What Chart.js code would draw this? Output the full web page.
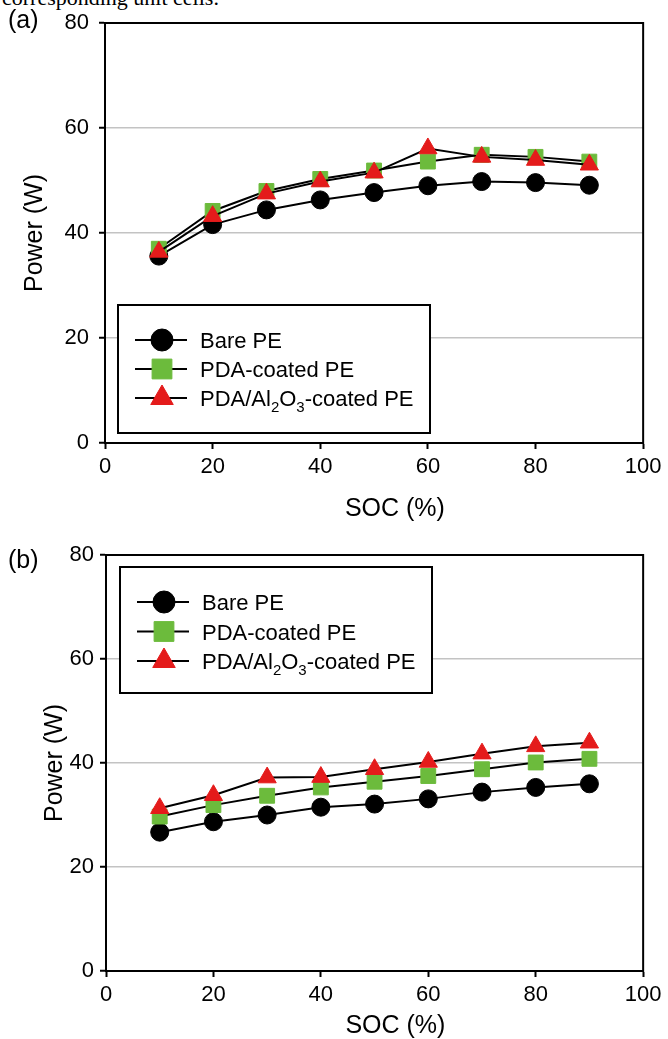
<!doctype html>
<html lang="en">
<head>
<meta charset="utf-8">
<title>Power vs SOC</title>
<script src="https://cdn.jsdelivr.net/npm/chart.js@4.4.1/dist/chart.umd.min.js"></script>
<style>
  html, body { margin: 0; padding: 0; background: #fff; }
  body { width: 668px; height: 1039px; position: relative; overflow: hidden; }
  .caption { position: absolute; left: 2px; top: -13px; font: 22px/22px "Liberation Serif", "Times New Roman", serif; white-space: nowrap; }
  .panel { position: absolute; left: 8px; z-index: 2; font: 25px/25px "Liberation Sans", Arial, sans-serif; }
  #wrapA { position: absolute; left: 0; top: 0; width: 668px; height: 530px; }
  #wrapB { position: absolute; left: 0; top: 530px; width: 668px; height: 509px; }
</style>
</head>
<body>
<div class="caption">corresponding unit cells.</div>
<div class="panel" style="top:7px">(a)</div>
<div class="panel" style="top:547px">(b)</div>
<div id="wrapA"><canvas id="chartA"></canvas></div>
<div id="wrapB"><canvas id="chartB"></canvas></div>
<script>
// SOC (%) on the x axis
var soc = [10, 20, 30, 40, 50, 60, 70, 80, 90];
var xTicks = [0, 20, 40, 60, 80, 100];
var yTicks = [0, 20, 40, 60, 80];
var seriesLabels = ['Bare PE', 'PDA-coated PE', 'PDA/Al2O3-coated PE'];

// panel (a)
var bareA = [35.6, 41.6, 44.4, 46.3, 47.7, 49.0, 49.8, 49.6, 49.1];
var pdaA = [37.0, 44.2, 48.0, 50.3, 51.9, 53.6, 54.9, 54.5, 53.6];
var alA = [36.4, 43.2, 47.5, 49.8, 51.5, 56.1, 54.5, 53.9, 53.0];

// panel (b)
var bareB = [26.7, 28.7, 30.0, 31.5, 32.1, 33.1, 34.4, 35.3, 36.0];
var pdaB = [29.7, 31.9, 33.7, 35.3, 36.4, 37.5, 38.8, 40.1, 40.8];
var alB = [31.3, 33.8, 37.2, 37.3, 38.8, 40.2, 41.8, 43.2, 43.9];

var looks = [
    { style: 'circle', color: '#000000', r: 9, legendR: 11 },
    { style: 'rect', color: '#6cbb3c', r: 10.5, legendR: 14 },
    { style: 'triangle', color: '#e41b1b', r: 10.5, legendR: 13 }
];

var tickFont = { family: '"Liberation Sans", Arial, sans-serif', size: 22, lineHeight: 1 };
var titleFont = { family: '"Liberation Sans", Arial, sans-serif', size: 25, lineHeight: 1 };

// black box round the plot area
var frame = {
    id: 'frame',
    beforeDatasetsDraw: function (chart) {
        var ctx = chart.ctx, a = chart.chartArea;
        ctx.save();
        ctx.strokeStyle = '#000';
        ctx.lineWidth = 2;
        ctx.strokeRect(a.left, a.top, a.right - a.left, a.bottom - a.top);
        ctx.restore();
    }
};

// draws text, digits as subscripts (Al2O3)
function drawRich(ctx, text, x, y) {
    var parts = text.split(/(\d+)/);
    parts.forEach(function (p, k) {
        if (!p) return;
        var sub = k % 2 === 1;
        ctx.font = (sub ? '15px' : '22px') + ' "Liberation Sans", Arial, sans-serif';
        ctx.fillText(p, x, sub ? y + 14 : y + 8);
        x += ctx.measureText(p).width;
    });
}

// boxed legend inside the plot, line + marker + label
var boxLegend = {
    id: 'boxLegend',
    afterDraw: function (chart, args, o) {
        var ctx = chart.ctx, a = chart.chartArea;
        var bx = a.left + o.dx, by = a.top + o.dy;
        ctx.save();
        ctx.fillStyle = '#fff';
        ctx.fillRect(bx, by, o.w, o.h);
        ctx.lineWidth = 2;
        ctx.strokeStyle = '#000';
        ctx.strokeRect(bx, by, o.w, o.h);
        chart.data.datasets.forEach(function (ds, i) {
            var y = by + o.firstRow + i * o.rowGap;
            ctx.strokeStyle = '#000';
            ctx.lineWidth = 2;
            ctx.beginPath();
            ctx.moveTo(bx + 17, y);
            ctx.lineTo(bx + 69, y);
            ctx.stroke();
            ctx.fillStyle = looks[i].color;
            ctx.strokeStyle = looks[i].color;
            ctx.lineWidth = 1;
            Chart.helpers.drawPoint(ctx, { pointStyle: looks[i].style, radius: looks[i].legendR, rotation: 0, borderWidth: 1 }, bx + 44, y);
            ctx.fillStyle = '#000';
            ctx.textBaseline = 'alphabetic';
            ctx.textAlign = 'left';
            drawRich(ctx, ds.label, bx + 82, y);
        });
        ctx.restore();
    }
};

function makeChart(id, series, cfg) {
    return new Chart(document.getElementById(id), {
        type: 'line',
        data: {
            datasets: series.map(function (s, i) {
                return {
                    label: seriesLabels[i],
                    data: soc.map(function (x, j) { return { x: x, y: s[j] }; }),
                    borderColor: '#000',
                    borderWidth: 2,
                    tension: 0,
                    pointStyle: looks[i].style,
                    pointRadius: looks[i].r,
                    pointBackgroundColor: looks[i].color,
                    pointBorderColor: looks[i].color,
                    pointBorderWidth: 1,
                    order: 2 - i
                };
            })
        },
        options: {
            responsive: true,
            maintainAspectRatio: false,
            animation: false,
            layout: { padding: cfg.padding },
            scales: {
                x: {
                    type: 'linear',
                    min: 0,
                    max: 100,
                    afterBuildTicks: function (s) { s.ticks = xTicks.map(function (v) { return { value: v }; }); },
                    afterFit: function (s) { s.height = cfg.xHeight; },
                    ticks: { color: '#000', font: tickFont, padding: 6.5, maxRotation: 0, autoSkip: false },
                    grid: { drawOnChartArea: false, tickColor: '#000', tickWidth: 2, tickLength: 6 },
                    border: { color: '#000', width: 2 },
                    // leading spaces push the title a little right, as in the original
                    title: { display: true, text: '      SOC (%)', color: '#000', font: titleFont, padding: { top: 0, bottom: cfg.xTitlePad } }
                },
                y: {
                    min: 0,
                    max: 80,
                    afterBuildTicks: function (s) { s.ticks = yTicks.map(function (v) { return { value: v }; }); },
                    afterFit: function (s) { s.width = cfg.yWidth; },
                    ticks: { color: '#000', font: tickFont, padding: cfg.yTickPad },
                    grid: {
                        color: function (c) {
                            var v = c.tick ? c.tick.value : null;
                            return (v === 0 || v === 80) ? 'rgba(0,0,0,0)' : '#c3c3c3';
                        },
                        lineWidth: 1.5,
                        tickColor: '#000',
                        tickWidth: 2,
                        tickLength: 6
                    },
                    border: { color: '#000', width: 2 },
                    title: { display: true, text: 'Power (W)', color: '#000', font: titleFont, padding: { top: cfg.yTitlePad, bottom: 0 } }
                }
            },
            plugins: {
                legend: { display: false },
                tooltip: { enabled: false },
                boxLegend: cfg.legend
            }
        },
        plugins: [frame, boxLegend]
    });
}

makeChart('chartA', [bareA, pdaA, alA], {
    padding: { top: 23, right: 21, left: 0, bottom: 0 },
    yWidth: 105, yTickPad: 10, yTitlePad: 22.5,
    xHeight: 87, xTitlePad: 8.5,
    legend: { dx: 13, dy: 282, w: 312, h: 128, firstRow: 35, rowGap: 29 }
});

makeChart('chartB', [bareB, pdaB, alB], {
    padding: { top: 25, right: 19, left: 0, bottom: 0 },
    yWidth: 106, yTickPad: 6, yTitlePad: 42.5,
    xHeight: 68, xTitlePad: 0,
    legend: { dx: 14, dy: 12, w: 312, h: 126, firstRow: 35, rowGap: 29.5 }
});
</script>
</body>
</html>
